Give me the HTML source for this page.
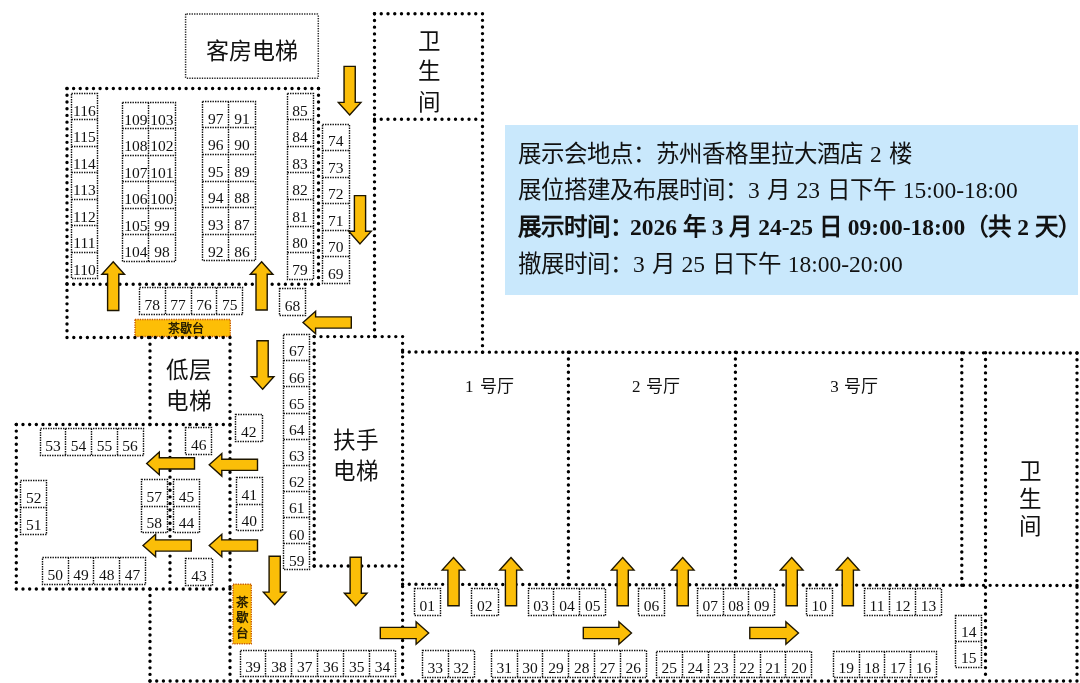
<!DOCTYPE html>
<html lang="zh-CN"><head><meta charset="utf-8"><title>展位图</title>
<style>
html,body{margin:0;padding:0;background:#fff;width:1080px;height:683px;overflow:hidden}
svg{display:block;position:absolute;left:0;top:0;will-change:transform}
.w{stroke:#000;stroke-width:3.4;stroke-linecap:round;fill:none}
.b{fill:none;stroke:#111;stroke-width:1.4;stroke-dasharray:1.4 1.1}
.n{font-family:"Liberation Serif",serif;font-size:15.5px;fill:#111;text-anchor:middle}
.a{fill:#FBBE08;stroke:#1e1600;stroke-width:1.4;stroke-linejoin:miter}
.t{font-family:"Liberation Sans",sans-serif;fill:#111}
.info{will-change:transform;position:absolute;left:504.5px;top:125px;width:573px;height:170px;background:#C9E8FC}
.info div{position:absolute;left:13px;white-space:nowrap;font-family:"Liberation Serif",serif;font-size:23.5px;color:#111}
</style></head><body>
<div class="info">
<div style="top:9.5px;word-spacing:1px;font-weight:350">展示会地点：苏州香格里拉大酒店 2 楼</div>
<div style="top:46.3px;word-spacing:1px;font-weight:350">展位搭建及布展时间：3 月 23 日下午 15:00-18:00</div>
<div style="top:83.2px;font-weight:bold">展示时间：<b style="margin-left:-3px">2026</b> 年 <b>3</b> 月 <b>24-25</b> 日 <b>09:00-18:00</b>（共 <b>2</b> 天）</div>
<div style="top:120.2px;word-spacing:1px;font-weight:350">撤展时间：3 月 25 日下午 18:00-20:00</div>
</div>
<svg width="1080" height="683" viewBox="0 0 1080 683">

<rect x="185.6" y="14" width="132.7" height="64.3" class="b" rx="1" style="stroke-width:1.5;stroke-dasharray:1.3 1.2;stroke:#222"/>
<rect x="135" y="319.5" width="95.3" height="17" fill="#FDBE06" stroke="#C85A00" stroke-width="1.4" stroke-dasharray="1.3 1.1"/>
<text x="186" y="333.3" class="t" style="font-size:12px;font-weight:bold;fill:#2a2000;text-anchor:middle">茶歇台</text>
<rect x="233" y="584.2" width="18.3" height="59.6" fill="#FDBE06" stroke="#C85A00" stroke-width="1.4" stroke-dasharray="1.3 1.1"/>
<text x="242.2" y="606.5" class="t" style="font-size:12.5px;font-weight:bold;fill:#2a2000;text-anchor:middle">茶</text>
<text x="242.2" y="622" class="t" style="font-size:12.5px;font-weight:bold;fill:#2a2000;text-anchor:middle">歇</text>
<text x="242.2" y="637.5" class="t" style="font-size:12.5px;font-weight:bold;fill:#2a2000;text-anchor:middle">台</text>
<line x1="374.5" y1="13.7" x2="482.5" y2="13.7" class="w" stroke-dasharray="0 6.750"/>
<line x1="374.5" y1="13.7" x2="374.5" y2="336.5" class="w" stroke-dasharray="0 6.725"/>
<line x1="482.5" y1="13.7" x2="482.5" y2="352.3" class="w" stroke-dasharray="0 6.639"/>
<line x1="374.5" y1="119.3" x2="482.5" y2="119.3" class="w" stroke-dasharray="0 6.750"/>
<line x1="67" y1="88.5" x2="318.5" y2="88.5" class="w" stroke-dasharray="0 6.618"/>
<line x1="318.5" y1="88.5" x2="318.5" y2="284.2" class="w" stroke-dasharray="0 6.748"/>
<line x1="67" y1="284.2" x2="318.5" y2="284.2" class="w" stroke-dasharray="0 6.618"/>
<line x1="67" y1="88.5" x2="67" y2="337.5" class="w" stroke-dasharray="0 6.730"/>
<line x1="67" y1="337.5" x2="230" y2="337.5" class="w" stroke-dasharray="0 6.792"/>
<line x1="314.2" y1="336.6" x2="402.6" y2="336.6" class="w" stroke-dasharray="0 6.800"/>
<line x1="314.2" y1="336.6" x2="314.2" y2="566" class="w" stroke-dasharray="0 6.747"/>
<line x1="314.2" y1="566" x2="402.6" y2="566" class="w" stroke-dasharray="0 6.800"/>
<line x1="402.6" y1="336.6" x2="402.6" y2="681" class="w" stroke-dasharray="0 6.753"/>
<line x1="150" y1="337.5" x2="150" y2="424.5" class="w" stroke-dasharray="0 6.692"/>
<line x1="230" y1="337.5" x2="230" y2="681" class="w" stroke-dasharray="0 6.735"/>
<line x1="16.3" y1="424.5" x2="230" y2="424.5" class="w" stroke-dasharray="0 6.678"/>
<line x1="16.3" y1="424.5" x2="16.3" y2="589" class="w" stroke-dasharray="0 6.580"/>
<line x1="16.3" y1="589" x2="230" y2="589" class="w" stroke-dasharray="0 6.678"/>
<line x1="170" y1="424.5" x2="170" y2="589" class="w" stroke-dasharray="0 6.580"/>
<line x1="150" y1="589" x2="150" y2="681" class="w" stroke-dasharray="0 6.571"/>
<line x1="150" y1="681" x2="1077" y2="681" class="w" stroke-dasharray="0 6.717"/>
<line x1="402.6" y1="352" x2="1077" y2="353" class="w" stroke-dasharray="0 6.677"/>
<line x1="402.6" y1="584.3" x2="1077" y2="585.5" class="w" stroke-dasharray="0 6.677"/>
<line x1="1077" y1="353" x2="1077" y2="681" class="w" stroke-dasharray="0 6.694"/>
<line x1="568.4" y1="352.3" x2="568.4" y2="584.5" class="w" stroke-dasharray="0 6.634"/>
<line x1="735.4" y1="352.3" x2="735.4" y2="584.5" class="w" stroke-dasharray="0 6.634"/>
<line x1="961.8" y1="352.8" x2="961.8" y2="585.2" class="w" stroke-dasharray="0 6.640"/>
<line x1="985.5" y1="352.8" x2="985.5" y2="681" class="w" stroke-dasharray="0 6.698"/>
<rect x="71.5" y="93.5" width="26.0" height="185.0" class="b"/>
<line x1="71.50" y1="119.50" x2="97.50" y2="119.50" class="b"/>
<line x1="71.50" y1="146.50" x2="97.50" y2="146.50" class="b"/>
<line x1="71.50" y1="172.50" x2="97.50" y2="172.50" class="b"/>
<line x1="71.50" y1="199.50" x2="97.50" y2="199.50" class="b"/>
<line x1="71.50" y1="225.50" x2="97.50" y2="225.50" class="b"/>
<line x1="71.50" y1="252.50" x2="97.50" y2="252.50" class="b"/>
<text x="84.40" y="115.50" class="n">116</text>
<text x="84.40" y="142.00" class="n">115</text>
<text x="84.40" y="168.50" class="n">114</text>
<text x="84.40" y="195.00" class="n">113</text>
<text x="84.40" y="221.50" class="n">112</text>
<text x="84.40" y="248.00" class="n">111</text>
<text x="84.40" y="274.50" class="n">110</text>
<rect x="122.5" y="102.5" width="53.0" height="159.0" class="b"/>
<line x1="148.50" y1="102.50" x2="148.50" y2="261.50" class="b"/>
<line x1="122.50" y1="128.50" x2="175.50" y2="128.50" class="b"/>
<line x1="122.50" y1="155.50" x2="175.50" y2="155.50" class="b"/>
<line x1="122.50" y1="181.50" x2="175.50" y2="181.50" class="b"/>
<line x1="122.50" y1="208.50" x2="175.50" y2="208.50" class="b"/>
<line x1="122.50" y1="234.50" x2="175.50" y2="234.50" class="b"/>
<text x="135.85" y="124.60" class="n">109</text>
<text x="135.85" y="151.10" class="n">108</text>
<text x="135.85" y="177.60" class="n">107</text>
<text x="135.85" y="204.10" class="n">106</text>
<text x="135.85" y="230.60" class="n">105</text>
<text x="135.85" y="257.10" class="n">104</text>
<text x="161.95" y="124.60" class="n">103</text>
<text x="161.95" y="151.10" class="n">102</text>
<text x="161.95" y="177.60" class="n">101</text>
<text x="161.95" y="204.10" class="n">100</text>
<text x="161.95" y="230.60" class="n">99</text>
<text x="161.95" y="257.10" class="n">98</text>
<rect x="202.5" y="101.5" width="53.0" height="159.0" class="b"/>
<line x1="228.50" y1="101.50" x2="228.50" y2="260.50" class="b"/>
<line x1="202.50" y1="127.50" x2="254.50" y2="127.50" class="b"/>
<line x1="202.50" y1="154.50" x2="254.50" y2="154.50" class="b"/>
<line x1="202.50" y1="181.50" x2="254.50" y2="181.50" class="b"/>
<line x1="202.50" y1="207.50" x2="254.50" y2="207.50" class="b"/>
<line x1="202.50" y1="234.50" x2="254.50" y2="234.50" class="b"/>
<text x="215.70" y="123.50" class="n">97</text>
<text x="215.70" y="150.10" class="n">96</text>
<text x="215.70" y="176.70" class="n">95</text>
<text x="215.70" y="203.30" class="n">94</text>
<text x="215.70" y="229.90" class="n">93</text>
<text x="215.70" y="256.50" class="n">92</text>
<text x="241.90" y="123.50" class="n">91</text>
<text x="241.90" y="150.10" class="n">90</text>
<text x="241.90" y="176.70" class="n">89</text>
<text x="241.90" y="203.30" class="n">88</text>
<text x="241.90" y="229.90" class="n">87</text>
<text x="241.90" y="256.50" class="n">86</text>
<rect x="287.5" y="93.5" width="26.0" height="186.0" class="b"/>
<line x1="287.50" y1="119.50" x2="313.50" y2="119.50" class="b"/>
<line x1="287.50" y1="146.50" x2="313.50" y2="146.50" class="b"/>
<line x1="287.50" y1="172.50" x2="313.50" y2="172.50" class="b"/>
<line x1="287.50" y1="199.50" x2="313.50" y2="199.50" class="b"/>
<line x1="287.50" y1="226.50" x2="313.50" y2="226.50" class="b"/>
<line x1="287.50" y1="252.50" x2="313.50" y2="252.50" class="b"/>
<text x="300.10" y="115.56" class="n">85</text>
<text x="300.10" y="142.12" class="n">84</text>
<text x="300.10" y="168.68" class="n">83</text>
<text x="300.10" y="195.24" class="n">82</text>
<text x="300.10" y="221.80" class="n">81</text>
<text x="300.10" y="248.36" class="n">80</text>
<text x="300.10" y="274.92" class="n">79</text>
<rect x="322.5" y="124.5" width="27.0" height="159.0" class="b"/>
<line x1="322.50" y1="150.50" x2="349.50" y2="150.50" class="b"/>
<line x1="322.50" y1="177.50" x2="349.50" y2="177.50" class="b"/>
<line x1="322.50" y1="203.50" x2="349.50" y2="203.50" class="b"/>
<line x1="322.50" y1="230.50" x2="349.50" y2="230.50" class="b"/>
<line x1="322.50" y1="256.50" x2="349.50" y2="256.50" class="b"/>
<text x="335.80" y="146.40" class="n">74</text>
<text x="335.80" y="172.90" class="n">73</text>
<text x="335.80" y="199.40" class="n">72</text>
<text x="335.80" y="225.90" class="n">71</text>
<text x="335.80" y="252.40" class="n">70</text>
<text x="335.80" y="278.90" class="n">69</text>
<rect x="139.5" y="287.5" width="103.0" height="27.0" class="b"/>
<line x1="165.50" y1="287.50" x2="165.50" y2="314.50" class="b"/>
<line x1="191.50" y1="287.50" x2="191.50" y2="314.50" class="b"/>
<line x1="216.50" y1="287.50" x2="216.50" y2="314.50" class="b"/>
<text x="152.15" y="309.90" class="n">78</text>
<text x="178.05" y="309.90" class="n">77</text>
<text x="203.95" y="309.90" class="n">76</text>
<text x="229.85" y="309.90" class="n">75</text>
<rect x="279.5" y="288.5" width="26.0" height="27.0" class="b"/>
<text x="292.40" y="310.70" class="n">68</text>
<rect x="283.5" y="334.5" width="26.0" height="235.0" class="b"/>
<line x1="283.50" y1="360.50" x2="309.50" y2="360.50" class="b"/>
<line x1="283.50" y1="386.50" x2="309.50" y2="386.50" class="b"/>
<line x1="283.50" y1="413.50" x2="309.50" y2="413.50" class="b"/>
<line x1="283.50" y1="439.50" x2="309.50" y2="439.50" class="b"/>
<line x1="283.50" y1="465.50" x2="309.50" y2="465.50" class="b"/>
<line x1="283.50" y1="491.50" x2="309.50" y2="491.50" class="b"/>
<line x1="283.50" y1="517.50" x2="309.50" y2="517.50" class="b"/>
<line x1="283.50" y1="543.50" x2="309.50" y2="543.50" class="b"/>
<text x="296.80" y="356.45" class="n">67</text>
<text x="296.80" y="382.60" class="n">66</text>
<text x="296.80" y="408.75" class="n">65</text>
<text x="296.80" y="434.90" class="n">64</text>
<text x="296.80" y="461.05" class="n">63</text>
<text x="296.80" y="487.20" class="n">62</text>
<text x="296.80" y="513.35" class="n">61</text>
<text x="296.80" y="539.50" class="n">60</text>
<text x="296.80" y="565.65" class="n">59</text>
<rect x="235.5" y="414.5" width="27.0" height="27.0" class="b"/>
<text x="248.75" y="437.00" class="n">42</text>
<rect x="236.5" y="477.5" width="26.0" height="53.0" class="b"/>
<line x1="236.50" y1="504.50" x2="262.50" y2="504.50" class="b"/>
<text x="249.35" y="499.70" class="n">41</text>
<text x="249.35" y="526.20" class="n">40</text>
<rect x="185.5" y="427.5" width="26.0" height="27.0" class="b"/>
<text x="198.75" y="449.90" class="n">46</text>
<rect x="40.5" y="428.5" width="103.0" height="27.0" class="b"/>
<line x1="65.50" y1="428.50" x2="65.50" y2="455.50" class="b"/>
<line x1="91.50" y1="428.50" x2="91.50" y2="455.50" class="b"/>
<line x1="117.50" y1="428.50" x2="117.50" y2="455.50" class="b"/>
<text x="52.88" y="450.70" class="n">53</text>
<text x="78.62" y="450.70" class="n">54</text>
<text x="104.38" y="450.70" class="n">55</text>
<text x="130.12" y="450.70" class="n">56</text>
<rect x="20.5" y="480.5" width="26.0" height="54.0" class="b"/>
<line x1="20.50" y1="507.50" x2="46.50" y2="507.50" class="b"/>
<text x="33.75" y="503.20" class="n">52</text>
<text x="33.75" y="529.90" class="n">51</text>
<rect x="141.5" y="479.5" width="26.0" height="53.0" class="b"/>
<line x1="141.50" y1="506.50" x2="167.50" y2="506.50" class="b"/>
<text x="154.15" y="501.80" class="n">57</text>
<text x="154.15" y="528.20" class="n">58</text>
<rect x="173.5" y="479.5" width="26.0" height="53.0" class="b"/>
<line x1="173.50" y1="506.50" x2="199.50" y2="506.50" class="b"/>
<text x="186.45" y="501.80" class="n">45</text>
<text x="186.45" y="528.20" class="n">44</text>
<rect x="42.5" y="557.5" width="103.0" height="27.0" class="b"/>
<line x1="68.50" y1="557.50" x2="68.50" y2="584.50" class="b"/>
<line x1="93.50" y1="557.50" x2="93.50" y2="584.50" class="b"/>
<line x1="119.50" y1="557.50" x2="119.50" y2="584.50" class="b"/>
<text x="55.35" y="579.90" class="n">50</text>
<text x="81.05" y="579.90" class="n">49</text>
<text x="106.75" y="579.90" class="n">48</text>
<text x="132.45" y="579.90" class="n">47</text>
<rect x="185.5" y="558.5" width="27.0" height="27.0" class="b"/>
<text x="198.90" y="581.00" class="n">43</text>
<rect x="240.5" y="650.5" width="155.0" height="26.0" class="b"/>
<line x1="265.50" y1="650.50" x2="265.50" y2="676.50" class="b"/>
<line x1="291.50" y1="650.50" x2="291.50" y2="676.50" class="b"/>
<line x1="317.50" y1="650.50" x2="317.50" y2="676.50" class="b"/>
<line x1="343.50" y1="650.50" x2="343.50" y2="676.50" class="b"/>
<line x1="369.50" y1="650.50" x2="369.50" y2="676.50" class="b"/>
<text x="252.96" y="672.40" class="n">39</text>
<text x="278.88" y="672.40" class="n">38</text>
<text x="304.80" y="672.40" class="n">37</text>
<text x="330.72" y="672.40" class="n">36</text>
<text x="356.64" y="672.40" class="n">35</text>
<text x="382.56" y="672.40" class="n">34</text>
<rect x="422.5" y="650.5" width="52.0" height="27.0" class="b"/>
<line x1="448.50" y1="650.50" x2="448.50" y2="677.50" class="b"/>
<text x="435.20" y="673.00" class="n">33</text>
<text x="461.20" y="673.00" class="n">32</text>
<rect x="491.5" y="650.5" width="155.0" height="27.0" class="b"/>
<line x1="517.50" y1="650.50" x2="517.50" y2="677.50" class="b"/>
<line x1="542.50" y1="650.50" x2="542.50" y2="677.50" class="b"/>
<line x1="568.50" y1="650.50" x2="568.50" y2="677.50" class="b"/>
<line x1="594.50" y1="650.50" x2="594.50" y2="677.50" class="b"/>
<line x1="620.50" y1="650.50" x2="620.50" y2="677.50" class="b"/>
<text x="504.22" y="673.20" class="n">31</text>
<text x="530.04" y="673.20" class="n">30</text>
<text x="555.88" y="673.20" class="n">29</text>
<text x="581.70" y="673.20" class="n">28</text>
<text x="607.53" y="673.20" class="n">27</text>
<text x="633.37" y="673.20" class="n">26</text>
<rect x="656.5" y="651.5" width="155.0" height="26.0" class="b"/>
<line x1="682.50" y1="651.50" x2="682.50" y2="677.50" class="b"/>
<line x1="708.50" y1="651.50" x2="708.50" y2="677.50" class="b"/>
<line x1="734.50" y1="651.50" x2="734.50" y2="677.50" class="b"/>
<line x1="760.50" y1="651.50" x2="760.50" y2="677.50" class="b"/>
<line x1="785.50" y1="651.50" x2="785.50" y2="677.50" class="b"/>
<text x="669.26" y="673.30" class="n">25</text>
<text x="695.19" y="673.30" class="n">24</text>
<text x="721.12" y="673.30" class="n">23</text>
<text x="747.05" y="673.30" class="n">22</text>
<text x="772.99" y="673.30" class="n">21</text>
<text x="798.91" y="673.30" class="n">20</text>
<rect x="833.5" y="651.5" width="103.0" height="26.0" class="b"/>
<line x1="859.50" y1="651.50" x2="859.50" y2="677.50" class="b"/>
<line x1="884.50" y1="651.50" x2="884.50" y2="677.50" class="b"/>
<line x1="910.50" y1="651.50" x2="910.50" y2="677.50" class="b"/>
<text x="846.17" y="673.20" class="n">19</text>
<text x="871.92" y="673.20" class="n">18</text>
<text x="897.67" y="673.20" class="n">17</text>
<text x="923.42" y="673.20" class="n">16</text>
<rect x="955.5" y="615.5" width="26.0" height="52.0" class="b"/>
<line x1="955.50" y1="641.50" x2="981.50" y2="641.50" class="b"/>
<text x="968.80" y="636.95" class="n">14</text>
<text x="968.80" y="663.20" class="n">15</text>
<rect x="414.5" y="588.5" width="26.0" height="27.0" class="b"/>
<text x="427.35" y="610.70" class="n">01</text>
<rect x="471.5" y="588.5" width="27.0" height="27.0" class="b"/>
<text x="484.65" y="610.70" class="n">02</text>
<rect x="528.5" y="588.5" width="77.0" height="27.0" class="b"/>
<line x1="553.50" y1="588.50" x2="553.50" y2="615.50" class="b"/>
<line x1="579.50" y1="588.50" x2="579.50" y2="615.50" class="b"/>
<text x="540.97" y="610.70" class="n">03</text>
<text x="566.89" y="610.70" class="n">04</text>
<text x="592.83" y="610.70" class="n">05</text>
<rect x="638.5" y="588.5" width="26.0" height="27.0" class="b"/>
<text x="651.50" y="610.70" class="n">06</text>
<rect x="697.5" y="588.5" width="77.0" height="27.0" class="b"/>
<line x1="723.50" y1="588.50" x2="723.50" y2="615.50" class="b"/>
<line x1="748.50" y1="588.50" x2="748.50" y2="615.50" class="b"/>
<text x="710.34" y="610.70" class="n">07</text>
<text x="736.00" y="610.70" class="n">08</text>
<text x="761.68" y="610.70" class="n">09</text>
<rect x="806.5" y="588.5" width="26.0" height="27.0" class="b"/>
<text x="819.25" y="610.70" class="n">10</text>
<rect x="864.5" y="588.5" width="77.0" height="27.0" class="b"/>
<line x1="889.50" y1="588.50" x2="889.50" y2="615.50" class="b"/>
<line x1="915.50" y1="588.50" x2="915.50" y2="615.50" class="b"/>
<text x="877.05" y="610.70" class="n">11</text>
<text x="902.75" y="610.70" class="n">12</text>
<text x="928.45" y="610.70" class="n">13</text>
<polygon class="a" points="349.65,115.00 360.95,102.40 355.25,102.40 355.25,66.40 344.05,66.40 344.05,102.40 338.35,102.40"/>
<polygon class="a" points="360.00,243.90 371.30,231.30 365.60,231.30 365.60,195.60 354.40,195.60 354.40,231.30 348.70,231.30"/>
<polygon class="a" points="113.20,261.70 124.50,274.30 118.80,274.30 118.80,310.50 107.60,310.50 107.60,274.30 101.90,274.30"/>
<polygon class="a" points="261.60,261.70 272.90,274.30 267.20,274.30 267.20,310.00 256.00,310.00 256.00,274.30 250.30,274.30"/>
<polygon class="a" points="303.00,322.50 315.60,311.20 315.60,316.90 351.30,316.90 351.30,328.10 315.60,328.10 315.60,333.80"/>
<polygon class="a" points="262.60,389.30 273.90,376.70 268.20,376.70 268.20,340.70 257.00,340.70 257.00,376.70 251.30,376.70"/>
<polygon class="a" points="146.70,463.40 159.30,452.10 159.30,457.80 194.50,457.80 194.50,469.00 159.30,469.00 159.30,474.70"/>
<polygon class="a" points="209.20,464.80 221.80,453.50 221.80,459.20 257.50,459.20 257.50,470.40 221.80,470.40 221.80,476.10"/>
<polygon class="a" points="143.00,545.50 155.60,534.20 155.60,539.90 191.30,539.90 191.30,551.10 155.60,551.10 155.60,556.80"/>
<polygon class="a" points="209.20,545.50 221.80,534.20 221.80,539.90 257.50,539.90 257.50,551.10 221.80,551.10 221.80,556.80"/>
<polygon class="a" points="274.70,604.70 286.00,592.10 280.30,592.10 280.30,556.30 269.10,556.30 269.10,592.10 263.40,592.10"/>
<polygon class="a" points="355.70,605.80 367.00,593.20 361.30,593.20 361.30,557.30 350.10,557.30 350.10,593.20 344.40,593.20"/>
<polygon class="a" points="428.70,633.00 416.10,621.70 416.10,627.40 380.30,627.40 380.30,638.60 416.10,638.60 416.10,644.30"/>
<polygon class="a" points="631.50,633.00 618.90,621.70 618.90,627.40 583.30,627.40 583.30,638.60 618.90,638.60 618.90,644.30"/>
<polygon class="a" points="798.50,633.00 785.90,621.70 785.90,627.40 749.80,627.40 749.80,638.60 785.90,638.60 785.90,644.30"/>
<polygon class="a" points="453.50,557.50 464.80,570.10 459.10,570.10 459.10,605.80 447.90,605.80 447.90,570.10 442.20,570.10"/>
<polygon class="a" points="511.00,557.50 522.30,570.10 516.60,570.10 516.60,605.80 505.40,605.80 505.40,570.10 499.70,570.10"/>
<polygon class="a" points="622.70,557.50 634.00,570.10 628.30,570.10 628.30,605.80 617.10,605.80 617.10,570.10 611.40,570.10"/>
<polygon class="a" points="682.70,557.50 694.00,570.10 688.30,570.10 688.30,605.80 677.10,605.80 677.10,570.10 671.40,570.10"/>
<polygon class="a" points="791.70,557.50 803.00,570.10 797.30,570.10 797.30,605.80 786.10,605.80 786.10,570.10 780.40,570.10"/>
<polygon class="a" points="847.80,557.50 859.10,570.10 853.40,570.10 853.40,605.80 842.20,605.80 842.20,570.10 836.50,570.10"/>
<text x="251.5" y="59" class="t" style="font-size:23px;text-anchor:middle">客房电梯</text>
<text x="429" y="49.0" class="t" style="font-size:22.5px;text-anchor:middle">卫</text>
<text x="429" y="79.3" class="t" style="font-size:22.5px;text-anchor:middle">生</text>
<text x="429" y="109.6" class="t" style="font-size:22.5px;text-anchor:middle">间</text>
<text x="1030" y="479.0" class="t" style="font-size:22.5px;text-anchor:middle">卫</text>
<text x="1030" y="506.6" class="t" style="font-size:22.5px;text-anchor:middle">生</text>
<text x="1030" y="534.2" class="t" style="font-size:22.5px;text-anchor:middle">间</text>
<text x="189" y="378" class="t" style="font-size:22.5px;text-anchor:middle">低层</text>
<text x="189" y="408.7" class="t" style="font-size:22.5px;text-anchor:middle">电梯</text>
<text x="356" y="448" class="t" style="font-size:22.5px;text-anchor:middle">扶手</text>
<text x="356" y="479" class="t" style="font-size:22.5px;text-anchor:middle">电梯</text>
<text x="465" y="391.7" class="n" style="font-size:17px;text-anchor:start">1</text>
<text x="479.5" y="392" class="t" style="font-size:17px;font-weight:350;text-anchor:start">号厅</text>
<text x="632" y="391.7" class="n" style="font-size:17px;text-anchor:start">2</text>
<text x="646" y="392" class="t" style="font-size:17px;font-weight:350;text-anchor:start">号厅</text>
<text x="830.3" y="391.7" class="n" style="font-size:17px;text-anchor:start">3</text>
<text x="844" y="392" class="t" style="font-size:17px;font-weight:350;text-anchor:start">号厅</text>
</svg></body></html>
